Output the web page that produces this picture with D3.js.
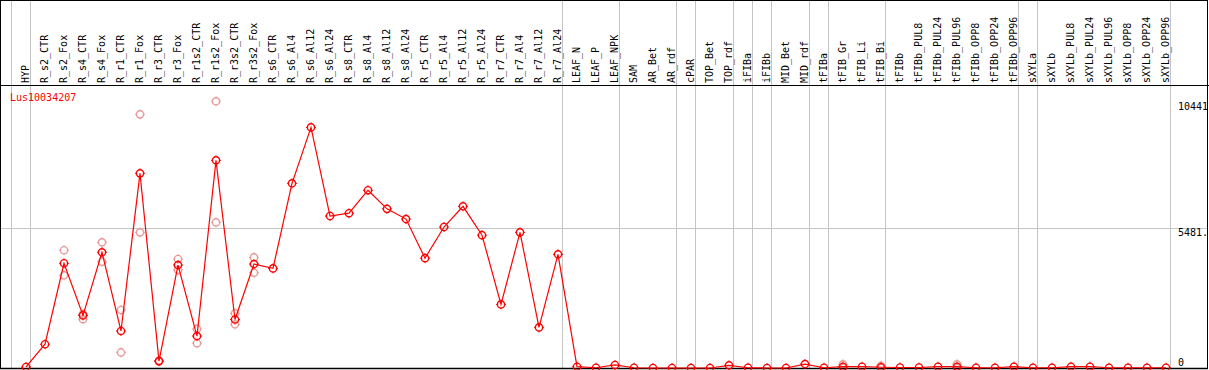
<!DOCTYPE html>
<html>
<head>
<meta charset="utf-8">
<script src="https://cdn.jsdelivr.net/npm/d3@7/dist/d3.min.js"></script>
<style>
  html, body { margin: 0; padding: 0; background: #fff; }
  svg { display: block; }
  text { font-family: "DejaVu Sans Mono", monospace; font-size: 10px; }
</style>
</head>
<body>
<svg id="chart" width="1209" height="370"></svg>
<script>
const title = "Lus10034207";

const categories = ["HYP","R_s2_CTR","R_s2_Fox","R_s4_CTR","R_s4_Fox","R_r1_CTR","R_r1_Fox","R_r3_CTR","R_r3_Fox","R_r1s2_CTR","R_r1s2_Fox","R_r3s2_CTR","R_r3s2_Fox","R_s6_CTR","R_s6_Al4","R_s6_Al12","R_s6_Al24","R_s8_CTR","R_s8_Al4","R_s8_Al12","R_s8_Al24","R_r5_CTR","R_r5_Al4","R_r5_Al12","R_r5_Al24","R_r7_CTR","R_r7_Al4","R_r7_Al12","R_r7_Al24","LEAF_N","LEAF_P","LEAF_NPK","SAM","AR_Bet","AR_rdf","cPAR","TOP_Bet","TOP_rdf","iFIBa","iFIBb","MID_Bet","MID_rdf","tFIBa","tFIB_Gr","tFIB_Li","tFIB_Bi","tFIBb","tFIBb_PUL8","tFIBb_PUL24","tFIBb_PUL96","tFIBb_OPP8","tFIBb_OPP24","tFIBb_OPP96","sXYLa","sXYLb","sXYLb_PUL8","sXYLb_PUL24","sXYLb_PUL96","sXYLb_OPP8","sXYLb_OPP24","sXYLb_OPP96"];

const meanValues = [40,930,4100,2060,4530,1450,7620,270,4030,1250,8130,1900,4070,3900,7230,9420,5950,6060,6960,6230,5830,4300,5520,6330,5200,2490,5310,1590,4450,50,10,120,10,0,0,0,0,105,10,0,0,155,10,50,50,30,20,20,50,50,10,10,50,10,10,50,50,10,10,10,10];

const rep1Values = [null,null,4610,2110,4920,2270,9930,260,4270,1530,10441,2140,4330,null,null,null,null,null,null,null,null,null,null,null,null,null,null,null,null,null,null,null,null,null,null,null,null,null,null,null,null,null,null,145,null,90,null,null,null,145,null,null,null,null,null,null,null,null,null,null,null];
const rep2Values = [null,null,3630,1910,4160,610,5310,290,3840,970,5700,1710,3730,null,null,null,null,null,null,null,null,null,null,null,null,null,null,null,null,null,null,null,null,null,null,null,null,null,null,null,null,null,null,0,null,0,null,null,null,0,null,null,null,null,null,null,null,null,null,null,null];

const groupEnds = ["HYP","R_r7_Al24","LEAF_NPK","AR_rdf","cPAR","TOP_rdf","iFIBa","iFIBb","MID_rdf","tFIBa","tFIB_Bi","tFIBb_OPP96","sXYLa","sXYLb_OPP96"];

const yTickValues = [0, 5481, 10441];
const yTickLabels = ["0", "5481.", "10441"];
const yGridValues = [5481];

const W = 1209, H = 370;
const plotTop = 85.5, plotBottom = 368.5;

const svg = d3.select("#chart");

const x = d3.scalePoint().domain(categories).range([26, 1166]).padding(0);
const y = d3.scaleLinear().domain([0, 10441]).range([368, 101.3]);
const step = x.step();

// vertical grid lines (group separators)
const gx = [x(categories[0]) - step + 4.5].concat(groupEnds.map(c => x(c) + 4.5));
svg.append("g").selectAll("line").data(gx).join("line")
  .attr("x1", d => Math.round(d - 0.5) + 0.5).attr("x2", d => Math.round(d - 0.5) + 0.5)
  .attr("y1", 0).attr("y2", plotBottom)
  .attr("stroke", "#c4c4c4").attr("stroke-width", 1);

// horizontal grid line
svg.append("g").selectAll("line").data(yGridValues).join("line")
  .attr("x1", 0).attr("x2", 1208)
  .attr("y1", d => Math.round(y(d)) + 0.5).attr("y2", d => Math.round(y(d)) + 0.5)
  .attr("stroke", "#c4c4c4").attr("stroke-width", 1);

// category labels
svg.append("g").selectAll("text").data(categories).join("text")
  .attr("transform", d => `translate(${x(d) + 3.3},83) rotate(-90)`)
  .attr("text-anchor", "start")
  .attr("fill", "#000")
  .text(d => d);

// title
svg.append("text").attr("x", 10).attr("y", 101).attr("fill", "#ff0000").text(title);

// right axis labels
svg.append("g").selectAll("text").data(yTickValues).join("text")
  .attr("x", 1178)
  .attr("y", d => Math.min(y(d) + 8.5, 366))
  .attr("fill", "#000")
  .text((d, i) => yTickLabels[i]);

function marker(g, cx, cy, color) {
  g.append("circle").attr("cx", cx).attr("cy", cy).attr("r", 3.6)
    .attr("fill", "none").attr("stroke", color).attr("stroke-width", 1.4);
  const t = [[0,-3.6,0,-5],[0,3.6,0,5],[-3.6,0,-5,0],[3.6,0,5,0]];
  t.forEach(s => g.append("line")
    .attr("x1", cx + s[0]).attr("y1", cy + s[1]).attr("x2", cx + s[2]).attr("y2", cy + s[3])
    .attr("stroke", color).attr("stroke-width", 1));
}

// replicate markers
const repG = svg.append("g");
[rep1Values, rep2Values].forEach(arr => {
  arr.forEach((v, i) => {
    if (v !== null) marker(repG, x(categories[i]), y(v), "#ea9a9a");
  });
});

// frame
svg.append("rect").attr("x", 0.5).attr("y", 0.5).attr("width", 1207).attr("height", plotBottom - 0.5)
  .attr("fill", "none").attr("stroke", "#000").attr("stroke-width", 1);
svg.append("line").attr("x1", 0).attr("x2", W).attr("y1", plotTop).attr("y2", plotTop)
  .attr("stroke", "#000").attr("stroke-width", 1);
svg.append("line").attr("x1", 0).attr("x2", 1208).attr("y1", plotBottom).attr("y2", plotBottom)
  .attr("stroke", "#000").attr("stroke-width", 1.5);

// mean line
const line = d3.line().x((d, i) => x(categories[i])).y(d => y(d));
svg.append("path").datum(meanValues).attr("d", line)
  .attr("fill", "none").attr("stroke", "#ff0000").attr("stroke-width", 1.2);

// mean markers
const mG = svg.append("g");
meanValues.forEach((v, i) => marker(mG, x(categories[i]), y(v), "#ff0000"));
</script>
</body>
</html>
